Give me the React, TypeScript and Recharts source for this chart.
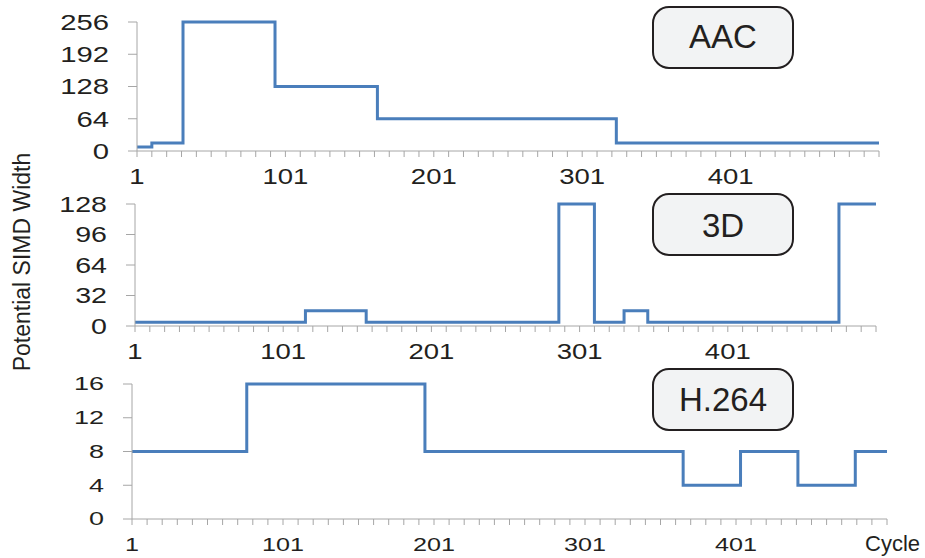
import { LineChart, Line, XAxis, YAxis } from "recharts";

// step traces: t = cycle boundary where a new width starts, v = width
const aacT = [0, 10, 31, 93, 162, 323, 500];
const aacV = [8, 16, 256, 128, 64, 16, 16];

const d3T = [0, 115, 156, 286, 310, 330, 346, 475, 500];
const d3V = [4, 16, 4, 128, 4, 16, 4, 128, 128];

const h264T = [0, 76, 194, 365, 403, 441, 479, 500];
const h264V = [8, 16, 8, 4, 8, 4, 8, 8];

const aacTicks = [0, 64, 128, 192, 256];
const d3Ticks = [0, 32, 64, 96, 128];
const h264Ticks = [0, 4, 8, 12, 16];

const xLabels = ["1", "101", "201", "301", "401"];
const xMinor = Array.from({ length: 51 }, (_, i) => i * 10);

const FONT = '"Liberation Sans", Arial, sans-serif';
const INK = "#231f20";
const AXIS = "#a6a6a6";
const BLUE = "#4a7ebb";

const toRows = (t: number[], v: number[]) => t.map((x, i) => ({ t: x, v: v[i] }));

function XTick({ x, y, payload, fs, sx }: any) {
  const i = payload.value / 100;
  if (payload.value % 100 !== 0 || i >= xLabels.length) return <g />;
  return (
    <text transform={`translate(${x},${y}) scale(${sx},1)`} textAnchor="middle" dy="0.71em"
      fontSize={fs} fontFamily={FONT} fill={INK}>{xLabels[i]}</text>
  );
}

function YTick({ x, y, payload, fs, sx }: any) {
  return (
    <text transform={`translate(${x},${y}) scale(${sx},1)`} textAnchor="end" dy="0.355em"
      fontSize={fs} fontFamily={FONT} fill={INK}>{payload.value}</text>
  );
}

function Panel({ top, height, yw, right, t, v, ticks, fs, xsx, ysx, xMargin }: any) {
  return (
    <div style={{ position: "absolute", left: 0, top }}>
      <LineChart width={925} height={height} data={toRows(t, v)}
        margin={{ top: 24, right, bottom: 0, left: 0 }}>
        <XAxis type="number" dataKey="t" domain={[0, 500]} ticks={xMinor} interval={0}
          stroke={AXIS} tickSize={6} tickMargin={xMargin} height={39}
          tick={(p: any) => <XTick {...p} fs={fs} sx={xsx} />} />
        <YAxis type="number" domain={[ticks[0], ticks[ticks.length - 1]]} ticks={ticks} interval={0}
          width={yw} stroke={AXIS} tickSize={9} tickMargin={19}
          tick={(p: any) => <YTick {...p} fs={fs} sx={ysx} />} />
        <Line type="stepAfter" dataKey="v" stroke={BLUE} strokeWidth={3} dot={false}
          isAnimationActive={false} />
      </LineChart>
    </div>
  );
}

function Tag({ y, label, base }: { y: number; label: string; base: number }) {
  return (
    <g>
      <rect x={653} y={y} width={140} height={61} rx={16} fill="#f2f3f4" stroke={INK} strokeWidth={2} />
      <text x={723} y={base} textAnchor="middle" fontSize={33} fontFamily={FONT} fill={INK}>{label}</text>
    </g>
  );
}

export default function App() {
  return (
    <div style={{ position: "absolute", left: 0, top: 0, width: 925, height: 558, background: "#fff" }}>
      <Panel top={-2} height={192} yw={137} right={46} t={aacT} v={aacV} ticks={aacTicks}
        fs={22} xsx={1.25} ysx={1.33} xMargin={11} />
      <Panel top={180} height={185} yw={135} right={49} t={d3T} v={d3V} ticks={d3Ticks}
        fs={22} xsx={1.25} ysx={1.3} xMargin={11} />
      <Panel top={360} height={198} yw={132} right={38} t={h264T} v={h264V} ticks={h264Ticks}
        fs={18} xsx={1.4} ysx={1.5} xMargin={13} />
      <svg width={925} height={558} style={{ position: "absolute", left: 0, top: 0, pointerEvents: "none" }}>
        <text transform="translate(22,262) rotate(-90)" textAnchor="middle" dy="0.35em"
          fontSize={23} fontFamily={FONT} fill={INK}>Potential SIMD Width</text>
        <text x={865} y={551} fontSize={22} fontFamily={FONT} fill={INK}>Cycle</text>
        <Tag y={7} label="AAC" base={48} />
        <Tag y={194} label="3D" base={237} />
        <Tag y={369} label="H.264" base={411} />
      </svg>
    </div>
  );
}
